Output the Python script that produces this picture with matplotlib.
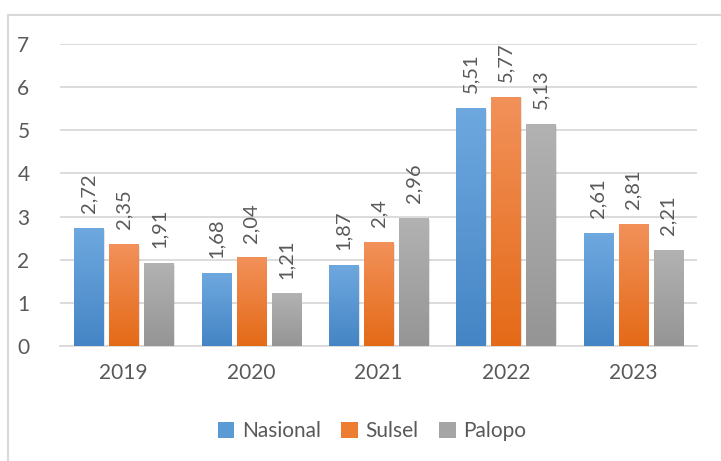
import numpy as np
import matplotlib
matplotlib.use("Agg")
import matplotlib.pyplot as plt
from matplotlib.colors import LinearSegmentedColormap
from matplotlib.patches import Rectangle, Patch

years = ["2019", "2020", "2021", "2022", "2023"]
series_names = ["Nasional", "Sulsel", "Palopo"]
nasional = [2.72, 1.68, 1.87, 5.51, 2.61]
sulsel = [2.35, 2.04, 2.40, 5.77, 2.81]
palopo = [1.91, 1.21, 2.96, 5.13, 2.21]
value_labels = [
    ["2,72", "1,68", "1,87", "5,51", "2,61"],
    ["2,35", "2,04", "2,4", "5,77", "2,81"],
    ["1,91", "1,21", "2,96", "5,13", "2,21"],
]

# (top colour, bottom colour) for the vertical gradient of each series
gradients = [("#6ea8df", "#4585c5"), ("#f2915a", "#e46a17"), ("#b2b2b2", "#959595")]
legend_colors = ["#5b9bd5", "#ed7d31", "#a5a5a5"]
text_color = "#595959"

plt.rcParams["font.family"] = ["Lato", "DejaVu Sans"]

fig = plt.figure(figsize=(7.21, 4.61), dpi=100)
ax = fig.add_axes([60 / 721, 1 - 346 / 461, 637 / 721, 302 / 461])

# outer chart border
fig.patches.append(Rectangle((8 / 721, -0.01), 1.0, 1 - 15 / 461 + 0.01,
                             transform=fig.transFigure, fill=False,
                             edgecolor="#d9d9d9", linewidth=1.5))

x = np.arange(len(years))
bar_w = 0.228
step = 0.275
all_vals = [nasional, sulsel, palopo]

grad = np.linspace(1, 0, 256).reshape(-1, 1)
for s, vals in enumerate(all_vals):
    cmap = LinearSegmentedColormap.from_list("g%d" % s, [gradients[s][1], gradients[s][0]])
    for i, v in enumerate(vals):
        left = x[i] + (s - 1) * step - bar_w / 2
        # soft shadow
        ax.add_patch(Rectangle((left + 0.012, 0), bar_w, v - 0.03, facecolor="#000000",
                               alpha=0.10, linewidth=0, zorder=2))
        ax.imshow(grad, extent=(left, left + bar_w, 0, v), aspect="auto", cmap=cmap,
                  interpolation="bilinear", zorder=3)
        ax.annotate(value_labels[s][i], xy=(left + bar_w / 2, v), xytext=(0, 11),
                    textcoords="offset points", rotation=90, ha="center", va="bottom",
                    fontsize=14.5, color=text_color, zorder=4)

ax.set_xlim(-0.5, len(years) - 0.5)
ax.set_ylim(0, 7)
ax.set_yticks(range(0, 8))
ax.set_xticks(x)
ax.set_xticklabels(years)
ax.yaxis.grid(True, color="#d9d9d9", linewidth=1.3, zorder=0)
ax.set_axisbelow(True)
for sp in ["top", "right", "left"]:
    ax.spines[sp].set_visible(False)
ax.spines["bottom"].set_color("#d9d9d9")
ax.spines["bottom"].set_linewidth(1.3)
ax.tick_params(axis="both", length=0, labelsize=15, colors=text_color)
ax.tick_params(axis="y", pad=22)
ax.tick_params(axis="x", pad=12)

handles = [Patch(facecolor=c, edgecolor="none") for c in legend_colors]
fig.legend(handles, series_names, loc="center", bbox_to_anchor=(372 / 721, 1 - 431 / 461),
           ncol=3, frameon=False, fontsize=15, labelcolor=text_color,
           handlelength=0.8, handleheight=0.8, handletextpad=0.35, columnspacing=1.0)

fig.savefig("out.png", dpi=100)
